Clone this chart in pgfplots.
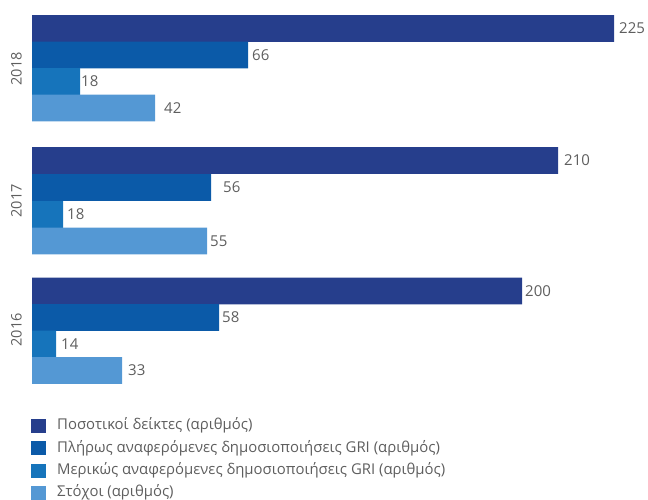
\documentclass[border=0pt]{standalone}
\usepackage{pgfplots}
\pgfplotsset{compat=1.18}
\usepackage{fontspec}
\setmainfont{Open Sans}
\definecolor{cA}{HTML}{263E8C}
\definecolor{cB}{HTML}{0B5AA8}
\definecolor{cC}{HTML}{1674BB}
\definecolor{cD}{HTML}{5498D4}
\definecolor{txt}{HTML}{5E5E5E}
\begin{document}
\begin{tikzpicture}
\begin{axis}[
  scale only axis, width=648pt, height=499pt,
  xmin=-32, xmax=616, ymin=0, ymax=499, y dir=reverse,
  axis lines=none, clip=false,
  /pgf/number format/assume math mode=true,
  xbar, bar shift=0pt, bar width=26.8pt,
  point meta=explicit,
  visualization depends on={value \thisrow{dx} \as \dx},
  nodes near coords={\pgfmathprintnumber{\pgfplotspointmeta}},
  nodes near coords style={font=\fontsize{15}{17}\selectfont, text=txt, anchor=west, inner sep=0pt, xshift=\dx pt},
  every axis plot/.append style={draw=none},
  legend image code/.code={\fill[#1] (0pt,-7pt) rectangle (15pt,7pt);},
  legend style={at={(axis cs:-1,419)}, anchor=north west, draw=none, fill=none,
    inner sep=0pt, row sep=8.2pt, column sep=11pt,
    font=\fontsize{14.9}{16}\selectfont, text=txt,
    nodes={inner sep=0pt, text=txt, text height=10.5pt, text depth=3pt}},
  legend cell align=left,
]
\addplot[fill=cA] table[x=x,y=y,meta=v] {
x y v dx
582 28.5 225 5
526 160.5 210 6
490 291 200 3
};
\addplot[fill=cB] table[x=x,y=y,meta=v] {
x y v dx
216 55 66 4
179 187.5 56 12
187 317.5 58 3
};
\addplot[fill=cC] table[x=x,y=y,meta=v] {
x y v dx
48 81.5 18 1
31 214.5 18 4
24 344 14 5
};
\addplot[fill=cD] table[x=x,y=y,meta=v] {
x y v dx
123 108 42 9
175 241 55 3
90 370.5 33 6
};
\legend{Ποσοτικοί δείκτες (αριθμός), Πλήρως αναφερόμενες δημοσιοποιήσεις GRI (αριθμός), Μερικώς αναφερόμενες δημοσιοποιήσεις GRI (αριθμός), Στόχοι (αριθμός)}
\node[rotate=90, text=txt, font=\fontsize{14.5}{16}\selectfont] at (axis cs:-15.5,69) {2018};
\node[rotate=90, text=txt, font=\fontsize{14.5}{16}\selectfont] at (axis cs:-15.5,201) {2017};
\node[rotate=90, text=txt, font=\fontsize{14.5}{16}\selectfont] at (axis cs:-15.5,330) {2016};
\path (axis cs:-32,0) rectangle (axis cs:616,499);
\end{axis}
\end{tikzpicture}
\end{document}
